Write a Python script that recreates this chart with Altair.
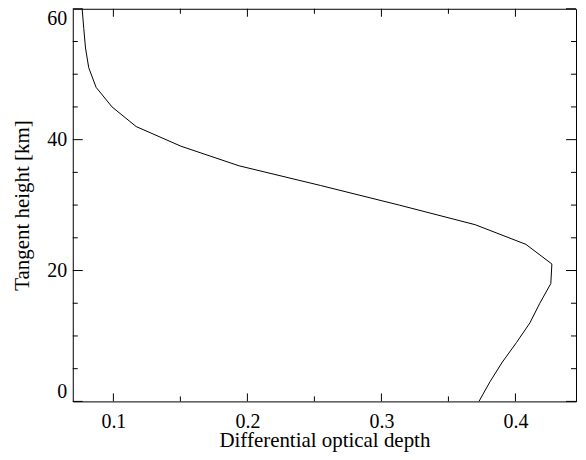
import altair as alt
import pandas as pd

heights = [60, 57, 54, 51, 48, 45, 42, 39, 36, 33, 30, 27, 24, 21, 18, 15, 12, 9, 6, 3, 0]
depths = [0.0767, 0.0779, 0.0792, 0.0816, 0.0871, 0.0990, 0.1170, 0.1504, 0.1938,
          0.2545, 0.3133, 0.3700, 0.4078, 0.4272, 0.4264, 0.4182, 0.4108, 0.4008,
          0.3902, 0.3810, 0.3728]
x_major = [0.1, 0.2, 0.3, 0.4]
x_minor = [0.15, 0.25, 0.35]
y_major = [0, 20, 40, 60]
y_minor = [5, 10, 15, 25, 30, 35, 45, 50, 55]
x_domain = [0.0697, 0.4452]
y_domain = [0, 60]

W, H = 505, 394

# inward tick lengths (pixels) converted to data units
xt_major = 8 * (y_domain[1] - y_domain[0]) / H
xt_minor = 5 * (y_domain[1] - y_domain[0]) / H
yt_major = 10 * (x_domain[1] - x_domain[0]) / W
yt_minor = 5 * (x_domain[1] - x_domain[0]) / W

# one table: the curve (group "curve") plus one short segment per tick
rows = [("curve", i, d, h) for i, (d, h) in enumerate(zip(depths, heights))]
tid = 0


def add(x0, y0, x1, y1):
    global tid
    g = "t%d" % tid
    rows.append((g, 0, x0, y0))
    rows.append((g, 1, x1, y1))
    tid += 1


for v, L in [(v, xt_major) for v in x_major] + [(v, xt_minor) for v in x_minor]:
    add(v, y_domain[0], v, y_domain[0] + L)
    add(v, y_domain[1], v, y_domain[1] - L)
for v, L in [(v, yt_major) for v in y_major] + [(v, yt_minor) for v in y_minor]:
    add(x_domain[0], v, x_domain[0] + L, v)
    add(x_domain[1], v, x_domain[1] - L, v)

df = pd.DataFrame(rows, columns=["grp", "ord", "depth", "height"])

FONT = "Liberation Serif"
xs = alt.Scale(domain=x_domain, nice=False, zero=False)
ys = alt.Scale(domain=y_domain, nice=False, zero=False)

x_axis = alt.Axis(orient="bottom", values=x_major, format=".1f", ticks=False,
                  domain=False, grid=False,
                  labelBaseline="alphabetic", labelPadding=26,
                  labelFont=FONT, labelFontSize=20, labelColor="black",
                  title="Differential optical depth", titleFont=FONT,
                  titleFontSize=21, titleFontWeight="normal", titleColor="black",
                  titleBaseline="alphabetic", titleAlign="center",
                  titleX=W / 2, titleY=45)
y_axis = alt.Axis(orient="left", values=y_major, format="d", ticks=False,
                  domain=False, grid=False, labelPadding=6, labelFlush=True,
                  labelFont=FONT, labelFontSize=20, labelColor="black",
                  title="Tangent height [km]", titleFont=FONT, titleFontSize=21,
                  titleFontWeight="normal", titleColor="black",
                  titleAngle=270, titleBaseline="alphabetic", titleAlign="center",
                  titleX=-44, titleY=H / 2)

chart = (
    alt.Chart(df).mark_line(color="black", strokeWidth=1).encode(
        x=alt.X("depth:Q", scale=xs, axis=x_axis),
        y=alt.Y("height:Q", scale=ys, axis=y_axis),
        detail="grp:N",
        order=alt.Order("ord:Q"),
    )
    .properties(width=W, height=H,
                autosize=alt.AutoSizeParams(type="none"),
                padding={"left": 65, "top": 0, "right": 2, "bottom": 50},
                background="white")
    .configure_view(stroke="black", strokeWidth=1)
)

chart.save("out.html", embed_options={"renderer": "svg", "actions": False})
